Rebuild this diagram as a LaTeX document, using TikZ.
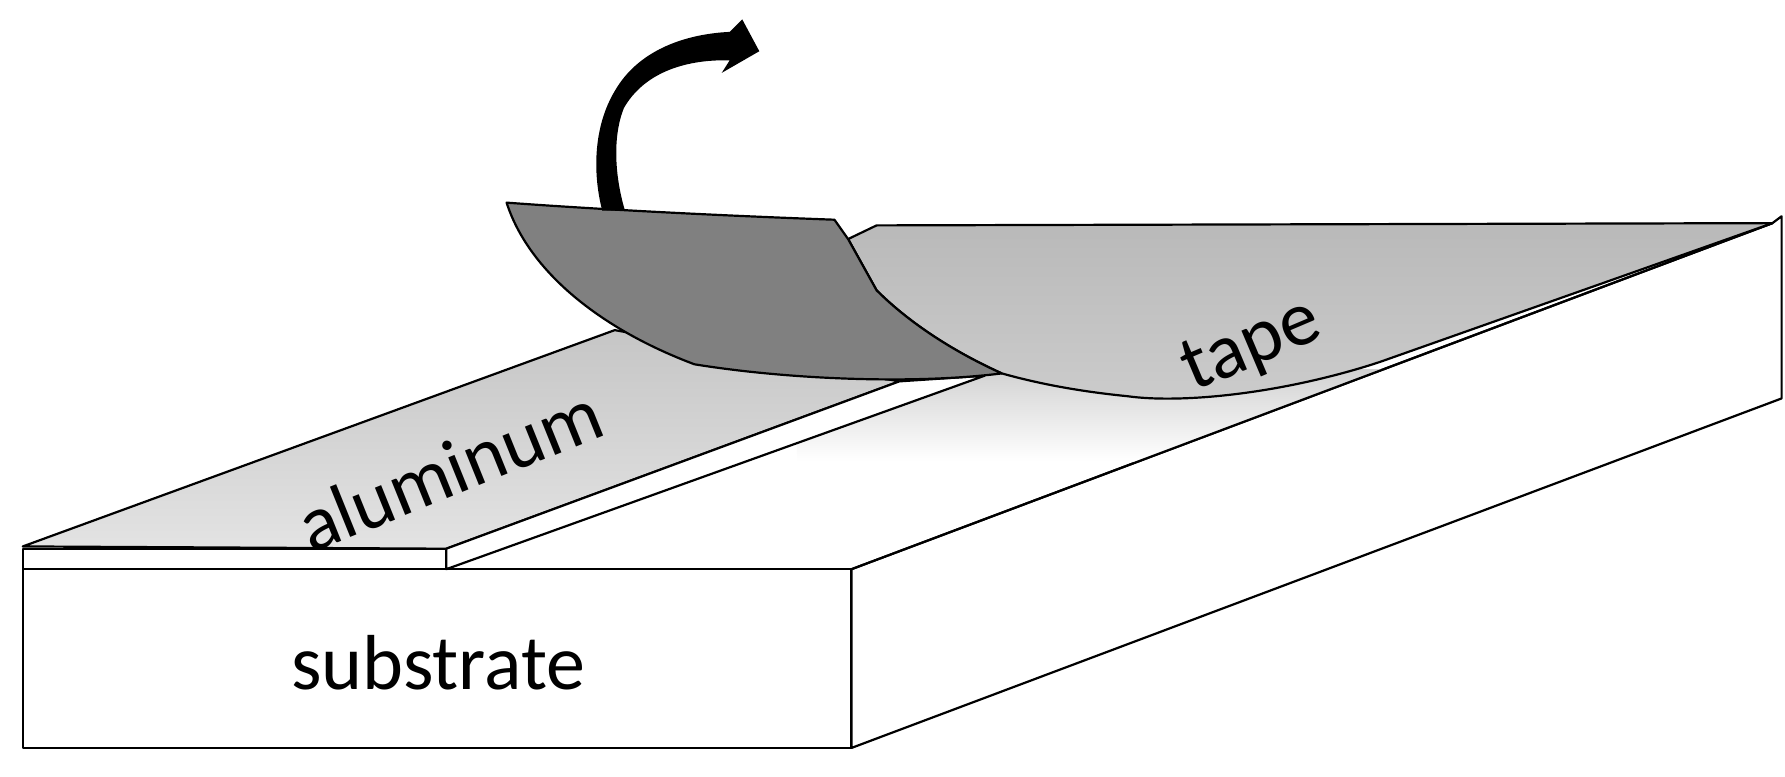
\documentclass[tikz,border=0pt]{standalone}
\usepackage{fontspec}
\setmainfont{Carlito}
\begin{document}
\begin{tikzpicture}[x=1.1384pt,y=-1.1384pt,
  edge/.style={draw=black,line width=2.2pt,line join=round},
  lbl/.style={font=\fontsize{78}{90}\selectfont,inner sep=0pt}]
\useasboundingbox (0,0) rectangle (1568,682.5);
% substrate front and right face
\draw[edge,fill=white] (20,500) rectangle (748,657);
\draw[edge,fill=white] (748,500) -- (1557,196) -- (1565,190) -- (1565,350) -- (748,657) -- cycle;
% shadow under tape
\begin{scope}
\clip (865,330) -- (392,500) -- (748,500) -- (1557,196) -- cycle;
\shade[top color=gray!35,bottom color=white] (700,325) rectangle (1300,405);
\end{scope}
% aluminum top face
\shade[top color=gray!45,bottom color=gray!22,edge] (20,480) -- (540,290) -- (790,335) -- (392,482) -- cycle;
% aluminum side strip
\draw[edge,fill=white] (392,482) -- (790,335) -- (865,330) -- (392,500) -- cycle;
\draw[edge,fill=white] (20,482) rectangle (392,500);
% substrate top right edge
\draw[edge] (748,500) -- (1557,196);
% tape flat part
\shade[top color=gray!55,bottom color=gray!40,edge]
  (745,210) -- (770,198) -- (1557,196) -- (1212,318)
  .. controls (1130,345) and (1040,355) .. (990,348)
  .. controls (940,343) and (905,335) .. (880,328)
  .. controls (840,310) and (800,285) .. (770,255) -- cycle;
% peeled dark tape
\draw[edge,fill=black!50]
  (445,178) .. controls (540,185) and (650,190) .. (733,193)
  -- (745,210) -- (770,255)
  .. controls (800,285) and (840,310) .. (880,328)
  .. controls (800,338) and (690,333) .. (610,320)
  .. controls (530,290) and (465,240) .. (445,178) -- cycle;
% arrow
\fill[black] (529,185) .. controls (520,150) and (522,110) .. (540,80)
  .. controls (560,45) and (600,30) .. (641,28) -- (652,17) -- (667,45)
  -- (634,64) -- (641,53) .. controls (600,52) and (565,65) .. (548,95)
  .. controls (538,120) and (540,155) .. (549,185) -- cycle;
% labels
\node[lbl,rotate=22] (al) at (395,412) {aluminum};
\node[lbl] (sub) at (385,582) {substrate};
\node[lbl,rotate=23] (tp) at (1100,305) {tape};
\end{tikzpicture}
\end{document}
